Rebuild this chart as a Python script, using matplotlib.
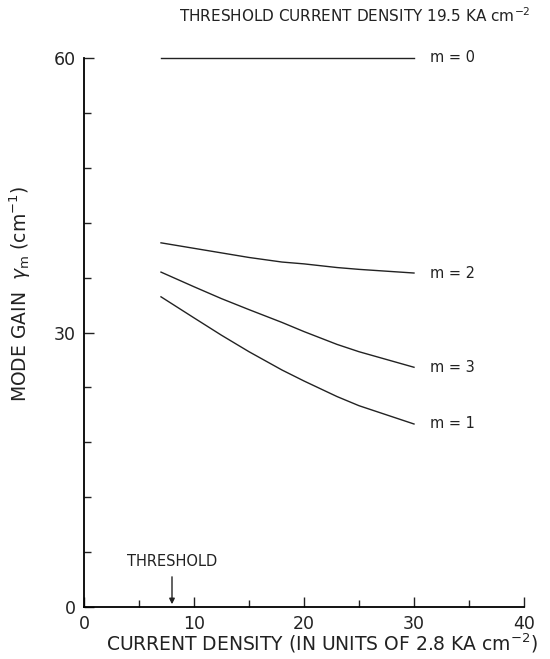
import matplotlib
matplotlib.use("Agg")
import matplotlib.pyplot as plt
from matplotlib.ticker import MultipleLocator

# current density (units of 2.8 KA cm^-2) and mode gain (cm^-1)
x_m0 = [7, 30]
gain_m0 = [60, 60]
x_pts = [7, 10, 12.5, 15, 18, 20, 23, 25, 30]
gain_m2 = [39.8, 39.2, 38.7, 38.2, 37.7, 37.5, 37.1, 36.9, 36.5]
gain_m3 = [36.6, 35.0, 33.7, 32.5, 31.1, 30.1, 28.7, 27.9, 26.2]
gain_m1 = [33.9, 31.6, 29.7, 27.9, 25.9, 24.7, 23.0, 22.0, 20.0]
mode_labels = ["m = 0", "m = 2", "m = 3", "m = 1"]
threshold_x = 8

plt.rcParams['font.family'] = ['DejaVu Sans']
ink = '#222222'

fig = plt.figure(figsize=(5.5, 6.59), dpi=100)
ax = fig.add_axes([84 / 550, 1 - 607 / 659, 440 / 550, (607 - 58) / 659])

curves = [(x_m0, gain_m0), (x_pts, gain_m2), (x_pts, gain_m3), (x_pts, gain_m1)]
for (xs, ys), lab in zip(curves, mode_labels):
    ax.plot(xs, ys, color=ink, lw=1.0, clip_on=False)
    ax.text(xs[-1] + 1.5, ys[-1], lab, fontsize=10.5, va='center', ha='left', color=ink)

ax.set_xlim(0, 40)
ax.set_ylim(0, 60)
ax.spines['top'].set_visible(False)
ax.spines['right'].set_visible(False)
ax.spines['left'].set_linewidth(1.3)
ax.spines['bottom'].set_linewidth(1.3)

ax.xaxis.set_major_locator(MultipleLocator(10))
ax.xaxis.set_minor_locator(MultipleLocator(5))
ax.yaxis.set_major_locator(MultipleLocator(30))
ax.yaxis.set_minor_locator(MultipleLocator(6))
ax.tick_params(which='major', direction='in', length=7, width=1, labelsize=12.5, pad=6,
               colors=ink)
ax.tick_params(which='minor', direction='in', length=5, width=1, colors=ink)

# threshold arrow
ax.annotate('', xy=(threshold_x, 0), xytext=(threshold_x, 3.6),
            arrowprops=dict(arrowstyle='-|>', color=ink, lw=1, mutation_scale=8))
ax.text(threshold_x, 4.2, 'THRESHOLD', ha='center', va='bottom', fontsize=10.5, color=ink)

ax.set_xlabel('CURRENT DENSITY (IN UNITS OF 2.8 KA cm$^{-2}$)', fontsize=13.5, color=ink)
ax.set_ylabel(r'MODE GAIN  $\gamma_{\rm m}$ (cm$^{-1}$)', fontsize=13.5, color=ink)
ax.yaxis.set_label_coords(-0.115, 0.57)
ax.xaxis.set_label_coords(0.54, -0.045)

fig.text(0.645, 0.977, 'THRESHOLD CURRENT DENSITY 19.5 KA cm$^{-2}$', ha='center',
         va='center', fontsize=11, color=ink)

fig.savefig('out.png', dpi=100)
